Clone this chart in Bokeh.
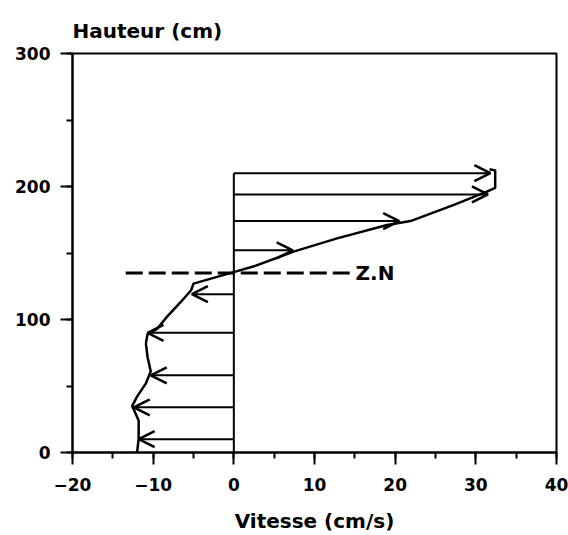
from bokeh.plotting import figure
from bokeh.models import (Range1d, SingleIntervalTicker, Arrow, OpenHead,
                          ColumnDataSource, Label)
from bokeh.embed import file_html
from bokeh.resources import INLINE

# Measured velocity arrows: height above bed (cm) and velocity (cm/s)
arrow_heights = [10, 34, 58, 90, 119, 152, 174, 194, 210]
arrow_speeds = [-11.8, -12.4, -10.3, -10.7, -5.2, 7.3, 20.5, 31.5, 31.8]

# Envelope of the velocity profile through the arrow tips
profile_heights = [0, 10, 24, 35, 42, 52, 61, 72, 82, 89, 93, 102, 113, 122,
                   127, 136, 140, 151, 161, 171, 174, 186, 196, 199, 212, 213]
profile_speeds = [-12, -11.8, -11.8, -12.6, -12, -10.9, -10.3, -10.7, -10.9,
                  -10.7, -9.5, -8.3, -6.6, -5.3, -5, 0.2, 2.5, 7.4, 12.8, 19,
                  21.9, 27.2, 31.3, 32.4, 32.4, 31.7]

# Level of zero velocity (Z.N)
zn_height = 135
zn_span = [-13.4, 14.6]

x_ticks_interval = 10
y_ticks_interval = 100

FONT = "DejaVu Sans"

p = figure(width=568, height=535, output_backend="svg", toolbar_location=None,
           x_range=Range1d(-20, 40), y_range=Range1d(0, 300),
           min_border_left=72, min_border_right=12,
           min_border_top=53, min_border_bottom=83)

p.background_fill_color = "white"
p.border_fill_color = "white"
p.xgrid.visible = False
p.ygrid.visible = False
p.outline_line_color = "black"
p.outline_line_width = 2
p.outline_line_alpha = 1

# Vertical axis title, set above the frame
p.title.text = "Hauteur (cm)"
p.title.align = "left"
p.title.text_font = FONT
p.title.text_font_size = "20px"
p.title.text_font_style = "bold"
p.title.text_color = "black"
p.title.standoff = 22
p.title.offset = 0

p.xaxis.ticker = SingleIntervalTicker(interval=x_ticks_interval, num_minor_ticks=2)
p.yaxis.ticker = SingleIntervalTicker(interval=y_ticks_interval, num_minor_ticks=2)

for ax in (p.xaxis[0], p.yaxis[0]):
    ax.axis_line_width = 2
    ax.axis_line_color = "black"
    ax.major_tick_line_width = 2
    ax.minor_tick_line_width = 2
    ax.major_tick_line_color = "black"
    ax.minor_tick_line_color = "black"
    ax.major_tick_out = 12
    ax.major_tick_in = 0
    ax.minor_tick_out = 6
    ax.minor_tick_in = 0
    ax.major_label_text_font = FONT
    ax.major_label_text_font_size = "17px"
    ax.major_label_text_font_style = "bold"
    ax.major_label_text_color = "black"
    ax.major_label_standoff = 10

p.xaxis.major_label_standoff = 13

p.xaxis.axis_label = "Vitesse (cm/s)"
p.xaxis.axis_label_text_font = FONT
p.xaxis.axis_label_text_font_size = "20px"
p.xaxis.axis_label_text_font_style = "bold"
p.xaxis.axis_label_text_color = "black"
p.xaxis.axis_label_standoff = 15

# Vertical reference at zero velocity
p.line([0, 0], [0, max(arrow_heights)], line_width=2, line_color="black")

# Horizontal velocity arrows
src = ColumnDataSource(dict(
    x0=[0] * len(arrow_heights),
    x1=arrow_speeds,
    y=arrow_heights,
))
p.add_layout(Arrow(end=OpenHead(size=16, line_width=2.5, line_color="black"),
                   x_start="x0", y_start="y", x_end="x1", y_end="y",
                   source=src, line_width=2, line_color="black"))

# Profile envelope
p.line(profile_speeds, profile_heights, line_width=2.5, line_color="black",
       line_join="round")

# Zero-velocity level
p.line(zn_span, [zn_height, zn_height], line_width=3, line_color="black",
       line_dash="17 6")
p.add_layout(Label(x=zn_span[1], y=zn_height, x_offset=4, text="Z.N",
                   text_font=FONT, text_font_size="20px",
                   text_font_style="bold", text_baseline="middle",
                   text_color="black"))

open("out.html", "w").write(file_html(p, INLINE))
